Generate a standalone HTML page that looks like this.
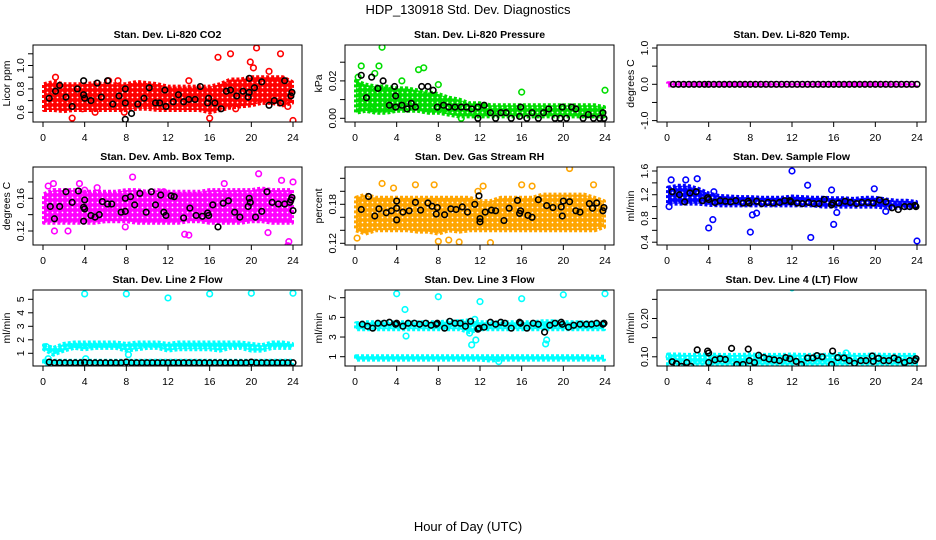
<!DOCTYPE html>
<html><head><meta charset="utf-8">
<style>
body{margin:0;background:#fff;}
svg{display:block;font-family:"Liberation Sans",sans-serif;}
</style></head>
<body>
<svg id="chart" width="936" height="540" viewBox="0 0 936 540">
<text x="468" y="14" font-size="13" text-anchor="middle">HDP_130918  Std. Dev. Diagnostics</text>
<text x="468" y="531" font-size="13" text-anchor="middle">Hour of Day (UTC)</text>
</svg>
<script>
const hours=[0,1,2,3,4,5,6,7,8,9,10,11,12,13,14,15,16,17,18,19,20,21,22,23,24];
const xTicks=[0,4,8,12,16,20,24];

// Panel 1 CO2
const co2Lo=[0.62,0.62,0.61,0.62,0.62,0.62,0.62,0.62,0.62,0.63,0.63,0.62,0.62,0.62,0.62,0.62,0.6,0.62,0.64,0.65,0.66,0.68,0.68,0.66,0.68];
const co2Hi=[0.84,0.86,0.84,0.84,0.84,0.85,0.84,0.84,0.84,0.86,0.85,0.84,0.82,0.82,0.82,0.82,0.82,0.84,0.88,0.88,0.9,0.9,0.9,0.9,0.86];
const co2OutX=[16.8,18,20.5,22.8,19.9,20.2,21.7,14,24,2.8,7.8,1.2,6.3,7.2,16,18.5,5,3.8,23.5];
const co2OutY=[1.07,1.1,1.15,1.1,1.03,0.98,0.95,0.87,0.53,0.55,0.6,0.9,0.87,0.87,0.55,0.63,0.6,0.63,0.65];
const co2BlkX=[0.6,1.2,1.6,2.2,2.8,3.3,3.9,3.9,4,4.6,5.2,5.6,6.2,6.7,7.3,7.9,7.9,7.9,8.5,9.1,9.7,10.2,10.8,11.2,11.7,11.8,12.5,13,13.5,14,14.6,15.1,15.8,15.9,16.5,17.1,17.6,18,18.6,19.2,19.7,19.8,19.8,20.3,21,21.7,22.2,22.8,23.2,23.8,23.9];
const co2BlkY=[0.72,0.78,0.83,0.73,0.65,0.8,0.87,0.75,0.72,0.7,0.85,0.73,0.87,0.67,0.74,0.8,0.68,0.54,0.59,0.67,0.72,0.81,0.68,0.68,0.79,0.65,0.69,0.75,0.69,0.71,0.71,0.82,0.68,0.72,0.68,0.63,0.78,0.79,0.74,0.78,0.73,0.77,0.89,0.81,0.86,0.66,0.7,0.68,0.87,0.74,0.77];

// Panel 2 pressure
const prLo=[0.003,0.004,0.003,0.003,0.004,0.004,0.004,0.003,0.003,0.002,0.001,0.001,0.001,0.001,0.001,0.001,0.001,0.001,0.001,0.001,0.001,0.001,0.001,0.001,0.001];
const prHi=[0.02,0.018,0.017,0.017,0.016,0.016,0.015,0.014,0.013,0.011,0.01,0.008,0.008,0.007,0.007,0.007,0.007,0.007,0.007,0.007,0.007,0.007,0.007,0.007,0.006];
const prOutX=[2.6,0.6,2.3,6.1,6.6,0.3,1.9,16,24,4.5,8,1.5,3.6,10.2];
const prOutY=[0.038,0.028,0.028,0.026,0.027,0.022,0.024,0.014,0.015,0.02,0.018,0.005,0.005,0.0];
const prBlkX=[0.6,1.1,1.6,2.2,2.7,3.3,3.8,3.9,3.9,4.5,5,5.4,5.8,6.4,7,7.5,7.9,8.5,9,9.6,10.2,10.7,11.2,11.8,11.8,12.4,13,13.5,14,14.5,15,15.8,15.9,16.5,17,17.6,18.1,18.6,19.2,19.7,19.9,20.3,20.8,21.2,21.9,22.4,22.9,23.5,23.8,23.9];
const prBlkY=[0.023,0.011,0.022,0.016,0.02,0.007,0.017,0.012,0.006,0.007,0.005,0.008,0.006,0.017,0.017,0.015,0.006,0.007,0.006,0.006,0.006,0.006,0.005,0.0,0.006,0.007,0.003,0.0,0.003,0.003,0.0,0.001,0.006,0.0,0.003,0.0,0.003,0.005,0.0,0.0,0.006,0.0,0.006,0.005,0.0,0.002,0.0,0.0,0.003,0.0];

// Panel 3 Li-820 temp
const ltLo=[-0.03,-0.03,-0.03,-0.03,-0.03,-0.03,-0.03,-0.03,-0.03,-0.03,-0.03,-0.03,-0.03,-0.03,-0.03,-0.03,-0.03,-0.03,-0.03,-0.03,-0.03,-0.03,-0.03,-0.03,-0.03];
const ltHi=[0.03,0.03,0.03,0.03,0.03,0.03,0.03,0.03,0.03,0.03,0.03,0.03,0.03,0.03,0.03,0.03,0.03,0.03,0.03,0.03,0.03,0.03,0.03,0.03,0.03];
const ltBlkX=[0.6,1.1,1.6,2.1,2.6,3.1,3.6,4,4.5,5,5.5,6,6.5,7,7.5,8,8.5,9,9.5,10,10.5,11,11.5,12,12.5,13,13.5,14,14.5,15,15.5,16,16.5,17,17.5,18,18.5,19,19.5,20,20.5,21,21.5,22,22.5,23,23.5,24];
const ltBlkY=[0,0,0,0,0,0,0,0,0,0,0,0,0,0,0,0,0,0,0,0,0,0,0,0,0,0,0,0,0,0,0,0,0,0,0,0,0,0,0,0,0,0,0,0,0,0,0,0];

// Panel 4 amb box temp
const abLo=[0.13,0.13,0.13,0.13,0.13,0.13,0.132,0.132,0.132,0.13,0.13,0.13,0.13,0.13,0.132,0.132,0.13,0.13,0.13,0.13,0.132,0.132,0.13,0.13,0.13];
const abHi=[0.165,0.17,0.17,0.17,0.168,0.168,0.168,0.168,0.17,0.17,0.168,0.17,0.168,0.168,0.168,0.168,0.17,0.17,0.17,0.17,0.17,0.172,0.17,0.17,0.17];
const abOutX=[2.4,1.1,0.5,1,3.5,5.2,8.6,11.6,13.6,20.7,22.9,23.5,23.6,21.6,24,14,17.4,4,7.9];
const abOutY=[0.12,0.12,0.175,0.178,0.178,0.173,0.186,0.168,0.116,0.19,0.182,0.102,0.107,0.118,0.18,0.115,0.178,0.17,0.125];
const abBlkX=[0.7,1.1,1.6,2.2,2.8,3.4,3.9,3.9,4,4,4.6,5,5.4,5.7,6.2,6.6,7.5,7.9,7.9,8.4,8.8,9.3,9.9,10.4,10.8,11.3,11.6,11.8,12.3,12.6,13.5,14.1,14.7,15.3,15.8,15.9,16.3,16.8,17.3,17.8,18.4,18.9,19.7,19.8,19.9,20.4,21,21.5,22,22.6,23.2,23.7,23.8,23.9,24];
const abBlkY=[0.15,0.135,0.15,0.168,0.155,0.169,0.132,0.149,0.147,0.158,0.139,0.137,0.14,0.156,0.153,0.153,0.143,0.16,0.144,0.162,0.152,0.166,0.143,0.168,0.152,0.164,0.143,0.139,0.163,0.162,0.136,0.148,0.139,0.138,0.142,0.139,0.152,0.125,0.154,0.157,0.143,0.137,0.15,0.16,0.155,0.137,0.144,0.168,0.155,0.153,0.153,0.155,0.158,0.161,0.145];

// Panel 5 gas stream RH
const rhLo=[0.14,0.135,0.14,0.14,0.14,0.14,0.138,0.138,0.135,0.14,0.138,0.14,0.14,0.14,0.14,0.14,0.14,0.14,0.14,0.14,0.14,0.14,0.14,0.14,0.145];
const rhHi=[0.19,0.195,0.19,0.19,0.19,0.19,0.19,0.19,0.19,0.19,0.19,0.19,0.185,0.185,0.19,0.19,0.19,0.19,0.195,0.195,0.195,0.195,0.195,0.19,0.185];
const rhOutX=[0.2,5.8,2.6,8,9,10,13,12.3,16,17,20.6,22.9,7.6,3.7,11.8];
const rhOutY=[0.128,0.21,0.212,0.123,0.125,0.122,0.121,0.208,0.21,0.208,0.235,0.21,0.21,0.205,0.2];
const rhBlkX=[0.6,1.3,1.9,2.3,3,3.5,4,4,4,4.6,5.2,5.8,6.3,7,7.4,7.9,8.6,7.8,9.2,9.7,10.3,10.8,11.5,11.9,12,12,12.5,13.1,13.5,14.3,14.8,15.6,15.8,15.9,16.6,17,17.6,18.4,19,19.8,19.9,20,20.6,21.2,21.6,22.5,22.8,23.2,23.8,23.9];
const rhBlkY=[0.172,0.192,0.162,0.173,0.167,0.17,0.174,0.185,0.156,0.168,0.17,0.183,0.171,0.182,0.177,0.175,0.164,0.165,0.173,0.172,0.176,0.168,0.18,0.193,0.158,0.153,0.168,0.171,0.17,0.155,0.174,0.186,0.166,0.17,0.163,0.16,0.187,0.178,0.175,0.176,0.162,0.185,0.184,0.17,0.168,0.181,0.174,0.182,0.17,0.175];

// Panel 6 sample flow
const sfLo=[1.05,1.05,1.05,1.05,1.03,1.02,1.02,1.02,1.02,1.02,1.02,1.02,1.02,1.02,1.02,1.0,1.0,1.0,1.0,1.0,1.0,0.98,0.98,0.98,0.98];
const sfHi=[1.32,1.35,1.35,1.3,1.22,1.18,1.17,1.16,1.16,1.15,1.15,1.15,1.17,1.16,1.15,1.15,1.14,1.14,1.13,1.15,1.15,1.12,1.1,1.1,1.08];
const sfOutX=[0.4,1.8,2.9,12,13.5,19.9,4,4.4,8,8.2,8.6,13.8,16,16.3,24,0.2,21,4.5,15.8];
const sfOutY=[1.45,1.45,1.47,1.6,1.36,1.3,0.64,0.78,0.57,0.86,0.89,0.48,0.7,0.9,0.42,1.0,0.92,1.25,1.28];
const sfBlkX=[0.5,1.2,1.7,2.2,2.8,3.4,3.9,4,4.6,5.1,5.6,6.1,6.6,7.3,7.8,7.9,8.6,9.1,9.7,10.2,10.8,11.3,11.8,11.9,12.5,13,13.6,14.1,14.6,15.1,15.8,15.9,16.5,17.1,17.6,18.2,18.7,19.3,19.8,20.4,21,21.6,22.2,22.8,23.3,23.8,23.9];
const sfBlkY=[1.25,1.2,1.08,1.23,1.25,1.1,1.15,1.12,1.07,1.1,1.09,1.08,1.1,1.06,1.09,1.06,1.09,1.05,1.07,1.06,1.07,1.1,1.1,1.08,1.06,1.05,1.07,1.05,1.05,1.12,1.03,1.06,1.06,1.09,1.07,1.05,1.07,1.07,1.06,1.11,1.08,0.98,0.95,1.0,1.0,1.02,1.0];

// Panel 7 line 2 flow
const l2Lo=[1.3,0.9,1.2,1.4,1.3,1.4,1.4,1.4,1.2,1.3,1.4,1.4,1.2,1.3,1.3,1.3,1.3,1.2,1.4,1.4,1.2,1.2,1.4,1.4,1.4];
const l2Hi=[1.6,1.4,1.7,1.8,1.8,1.8,1.8,1.8,1.7,1.8,1.8,1.8,1.7,1.8,1.8,1.8,1.8,1.8,1.8,1.8,1.7,1.6,1.8,1.8,1.7];
const l2Lo2=[0.2,0.2,0.2,0.2,0.2,0.2,0.2,0.2,0.2,0.2,0.2,0.2,0.2,0.2,0.2,0.2,0.2,0.2,0.2,0.2,0.2,0.2,0.2,0.2,0.2];
const l2Hi2=[0.45,0.45,0.45,0.45,0.45,0.45,0.45,0.45,0.45,0.45,0.45,0.45,0.45,0.45,0.45,0.45,0.45,0.45,0.45,0.45,0.45,0.45,0.45,0.45,0.45];
const l2OutX=[4,8,12,16,20,24,0.3,0.5,4.1,8.2];
const l2OutY=[5.4,5.4,5.1,5.4,5.45,5.45,1.5,0.6,0.6,0.9];
const l2BlkX=[0.6,1.1,1.6,2.1,2.6,3.1,3.6,4,4.5,5,5.5,6,6.5,7,7.5,8,8.5,9,9.5,10,10.5,11,11.5,12,12.5,13,13.5,14,14.5,15,15.5,16,16.5,17,17.5,18,18.5,19,19.5,20,20.5,21,21.5,22,22.5,23,23.5,24];
const l2BlkY=[0.35,0.3,0.3,0.3,0.3,0.3,0.3,0.32,0.3,0.3,0.3,0.3,0.3,0.3,0.3,0.35,0.3,0.3,0.3,0.3,0.3,0.3,0.3,0.3,0.3,0.3,0.3,0.3,0.3,0.3,0.3,0.3,0.3,0.3,0.3,0.3,0.3,0.3,0.3,0.35,0.3,0.3,0.3,0.3,0.3,0.3,0.3,0.3];

// Panel 8 line 3 flow
const l3Lo=[3.8,3.8,3.8,3.8,3.8,3.8,3.8,3.8,3.8,3.8,3.8,3.5,3.8,3.8,3.8,3.8,3.8,3.8,3.8,3.8,3.8,3.8,3.8,3.8,3.8];
const l3Hi=[4.4,4.5,4.5,4.5,4.5,4.5,4.5,4.5,4.5,4.6,4.6,4.7,4.5,4.5,4.5,4.5,4.5,4.5,4.6,4.6,4.5,4.5,4.5,4.5,4.5];
const l3Lo2=[0.7,0.7,0.7,0.7,0.7,0.7,0.7,0.7,0.7,0.7,0.7,0.7,0.7,0.6,0.7,0.7,0.7,0.7,0.7,0.7,0.7,0.7,0.7,0.7,0.7];
const l3Hi2=[1.05,1.05,1.05,1.05,1.05,1.05,1.05,1.05,1.05,1.05,1.05,1.05,1.05,1.05,1.05,1.05,1.05,1.05,1.05,1.05,1.05,1.05,1.05,1.0,1.0];
const l3OutX=[4,8,12,16,20,24,4.8,4.9,11.2,11.6,11.5,18.3,18.4,13.8,11];
const l3OutY=[7.4,7.1,6.6,6.9,7.3,7.4,5.8,3.1,2.2,2.7,4.8,2.3,2.7,0.5,3.4];
const l3BlkX=[0.7,1.2,1.7,2.2,2.8,3.3,3.9,4,4.6,5.1,5.7,6.2,6.8,7.3,7.8,7.9,8.6,9.1,9.6,10.1,10.6,11.1,11.8,11.9,12.4,13,13.5,14,14.4,15,15.8,15.9,16.5,17.1,17.6,18.2,18.7,19.2,19.8,19.9,20.5,21,21.6,22.2,22.7,23.2,23.8,23.9];
const l3BlkY=[4.3,4.1,3.9,4.4,4.4,4.5,4.3,4.4,4.1,4.4,4.4,4.3,4.4,4.2,4.3,4.4,3.9,4.6,4.4,4.4,4.1,4.6,3.8,3.9,4.0,4.5,4.3,4.5,4.4,3.9,4.5,4.4,3.9,4.4,4.3,3.5,4.2,4.4,4.5,4.3,4.0,4.2,4.3,4.3,4.3,4.4,4.3,4.4];

// Panel 9 line 4 flow
const l4Lo=[0.08,0.08,0.08,0.08,0.08,0.08,0.08,0.08,0.08,0.08,0.08,0.08,0.08,0.08,0.08,0.08,0.08,0.08,0.08,0.08,0.08,0.08,0.08,0.08,0.08];
const l4Hi=[0.106,0.106,0.105,0.105,0.106,0.105,0.105,0.105,0.106,0.105,0.105,0.105,0.106,0.105,0.105,0.105,0.106,0.108,0.105,0.105,0.106,0.105,0.105,0.105,0.105];
const l4OutX=[4,12,20,17.2,0.2];
const l4OutY=[0.29,0.28,0.30,0.11,0.1];
const l4BlkX=[0.5,0.9,1.4,1.9,2.3,2.9,3.9,4,4,4.6,5.1,5.6,6.2,6.7,7.3,7.8,7.9,8.4,8.8,9.3,9.8,10.3,10.8,11.4,11.8,12.4,12.9,13.5,14,14.4,14.9,15.8,15.9,16.4,17,17.5,18,18.6,19.1,19.7,19.8,20.3,20.8,21.3,21.8,22.2,22.8,23.3,23.8,23.9];
const l4BlkY=[0.087,0.082,0.075,0.085,0.075,0.118,0.115,0.11,0.085,0.092,0.095,0.093,0.122,0.08,0.08,0.12,0.09,0.085,0.104,0.098,0.094,0.092,0.09,0.098,0.095,0.088,0.08,0.097,0.097,0.103,0.1,0.08,0.115,0.098,0.097,0.09,0.083,0.09,0.09,0.102,0.088,0.096,0.09,0.09,0.097,0.092,0.085,0.09,0.09,0.095];

const panels=[
 {name:'co2',col:0,row:0,title:'Stan. Dev. Li-820 CO2',ylab:'Licor ppm',color:'#ff0000',v0:0.6,p0:112.3,v1:1.0,p1:65.5,ticks:[0.6,0.7,0.8,0.9,1.0,1.1],labels:[0.6,0.8,1.0],dec:1,bands:[[co2Lo,co2Hi]],ox:co2OutX,oy:co2OutY,bx:co2BlkX,by:co2BlkY},
 {name:'pressure',col:1,row:0,title:'Stan. Dev. Li-820 Pressure',ylab:'kPa',color:'#00dd00',v0:0,p0:118.3,v1:0.02,p1:80.9,ticks:[0,0.01,0.02,0.03],labels:[0,0.02],dec:2,bands:[[prLo,prHi]],ox:prOutX,oy:prOutY,bx:prBlkX,by:prBlkY},
 {name:'li820-temp',col:2,row:0,title:'Stan. Dev. Li-820 Temp.',ylab:'degrees C',color:'#ff00ff',v0:0,p0:84.3,v1:1,p1:48,ticks:[-1,-0.5,0,0.5,1],labels:[-1,0,1],dec:1,bands:[[ltLo,ltHi]],ox:[],oy:[],bx:ltBlkX,by:ltBlkY},
 {name:'amb-box-temp',col:0,row:1,title:'Stan. Dev. Amb. Box Temp.',ylab:'degrees C',color:'#ff00ff',v0:0.12,p0:231,v1:0.16,p1:198.3,ticks:[0.12,0.14,0.16,0.18],labels:[0.12,0.16],dec:2,bands:[[abLo,abHi]],ox:abOutX,oy:abOutY,bx:abBlkX,by:abBlkY},
 {name:'gas-stream-rh',col:1,row:1,title:'Stan. Dev. Gas Stream RH',ylab:'percent',color:'#ffa500',v0:0.12,p0:243.3,v1:0.18,p1:204.3,ticks:[0.12,0.14,0.16,0.18,0.2,0.22],labels:[0.12,0.18],dec:2,bands:[[rhLo,rhHi]],ox:rhOutX,oy:rhOutY,bx:rhBlkX,by:rhBlkY},
 {name:'sample-flow',col:2,row:1,title:'Stan. Dev. Sample Flow',ylab:'ml/min',color:'#0000ff',v0:0.4,p0:242.2,v1:1.6,p1:171,ticks:[0.4,0.6,0.8,1.0,1.2,1.4,1.6],labels:[0.4,0.8,1.2,1.6],dec:1,bands:[[sfLo,sfHi]],ox:sfOutX,oy:sfOutY,bx:sfBlkX,by:sfBlkY},
 {name:'line2-flow',col:0,row:2,title:'Stan. Dev. Line 2 Flow',ylab:'ml/min',color:'#00ffff',v0:1,p0:353.3,v1:5,p1:299.3,ticks:[1,2,3,4,5],labels:[1,2,3,4,5],dec:0,bands:[[l2Lo,l2Hi],[l2Lo2,l2Hi2]],ox:l2OutX,oy:l2OutY,bx:l2BlkX,by:l2BlkY},
 {name:'line3-flow',col:1,row:2,title:'Stan. Dev. Line 3 Flow',ylab:'ml/min',color:'#00ffff',v0:1,p0:356.7,v1:7,p1:297.7,ticks:[1,3,5,7],labels:[1,3,5,7],dec:0,bands:[[l3Lo,l3Hi],[l3Lo2,l3Hi2]],ox:l3OutX,oy:l3OutY,bx:l3BlkX,by:l3BlkY},
 {name:'line4-flow',col:2,row:2,title:'Stan. Dev. Line 4 (LT) Flow',ylab:'ml/min',color:'#00ffff',v0:0.1,p0:356.8,v1:0.2,p1:318.5,ticks:[0.1,0.15,0.2,0.25],labels:[0.1,0.2],dec:2,bands:[[l4Lo,l4Hi]],ox:l4OutX,oy:l4OutY,bx:l4BlkX,by:l4BlkY}
];
const rowTop=[45,167,290], rowBot=[122,245,366];
const NS='http://www.w3.org/2000/svg';
const svg=document.getElementById('chart');
function mk(tag,attrs,parent){const e=document.createElementNS(NS,tag);for(const k in attrs)e.setAttribute(k,attrs[k]);(parent||svg).appendChild(e);return e;}
const defs=mk('defs',{});

panels.forEach(p=>{
  const g=mk('g',{});
  
  
  const left=33+312*p.col, right=left+269, top=rowTop[p.row], bot=rowBot[p.row];
  const xS=h=>43+312*p.col+h*250/24;
  const yS=v=>p.p0+(v-p.v0)*(p.p1-p.p0)/(p.v1-p.v0);
  const patId='pat'+p.name;
  const pat=mk('pattern',{id:patId,width:5,height:5,patternUnits:'userSpaceOnUse'},defs);
  mk('rect',{x:0,y:0,width:5,height:5,fill:p.color},pat);
  mk('circle',{cx:2.5,cy:2.5,r:0.9,fill:'#fff'},pat);
  const clipId='clip'+p.name;
  const cp=mk('clipPath',{id:clipId},g);
  mk('rect',{x:left,y:top,width:269,height:bot-top},cp);
  const plot=mk('g',{'clip-path':'url(#'+clipId+')'},g);
  p.bands.forEach(([lo,hi])=>{
    let d='M';
    hours.forEach((h,i)=>{d+=xS(h===0?0.1:h===24?23.9:h).toFixed(1)+','+yS(hi[i]).toFixed(1)+' L';});
    for(let i=hours.length-1;i>=0;i--){const h=hours[i];d+=xS(h===0?0.1:h===24?23.9:h).toFixed(1)+','+yS(lo[i]).toFixed(1)+(i>0?' L':' Z');}
    const b=mk('path',{d:d,fill:'url(#'+patId+')',stroke:p.color,'stroke-width':4,'stroke-linejoin':'round','stroke-dasharray':'3 2'},plot);
    
    
  });
  p.ox.forEach((x,i)=>{
    const c=mk('circle',{cx:xS(x),cy:yS(p.oy[i]),r:2.8,fill:'none',stroke:p.color,'stroke-width':1.6},plot);
    
    
  });
  p.bx.forEach((x,i)=>{
    const c=mk('circle',{cx:xS(x),cy:yS(p.by[i]),r:2.8,fill:'none',stroke:'#000','stroke-width':1.6},plot);
    
    
  });
  const box=mk('rect',{x:left,y:top,width:269,height:bot-top,fill:'none',stroke:'#000','stroke-width':1},g);
  
  
  const t=mk('text',{x:(left+right)/2,y:top-7,'font-size':10.5,'font-weight':'bold','text-anchor':'middle'},g);
  t.textContent=p.title;
  
  
  xTicks.forEach(h=>{
    mk('line',{x1:xS(h),x2:xS(h),y1:bot,y2:bot+5,stroke:'#000'},g);
    const l=mk('text',{x:xS(h),y:bot+19,'font-size':10.5,'text-anchor':'middle'},g);
    l.textContent=h;
    
    
  });
  p.ticks.forEach(v=>{ if(yS(v)>=top-1&&yS(v)<=bot+1) mk('line',{x1:left,x2:left-5,y1:yS(v),y2:yS(v),stroke:'#000'},g);});
  p.labels.forEach(v=>{
    const y=yS(v), x=left-9;
    const l=mk('text',{x:x,y:y,'font-size':10.5,'text-anchor':'middle',transform:'rotate(-90 '+x+' '+y+')'},g);
    l.textContent=v.toFixed(p.dec);
    
    
  });
  const yl=left-23, ym=(top+bot)/2;
  const lab=mk('text',{x:yl,y:ym,'font-size':10.5,'text-anchor':'middle',transform:'rotate(-90 '+yl+' '+ym+')'},g);
  lab.textContent=p.ylab;
  
  
});
</script>
</body></html>
